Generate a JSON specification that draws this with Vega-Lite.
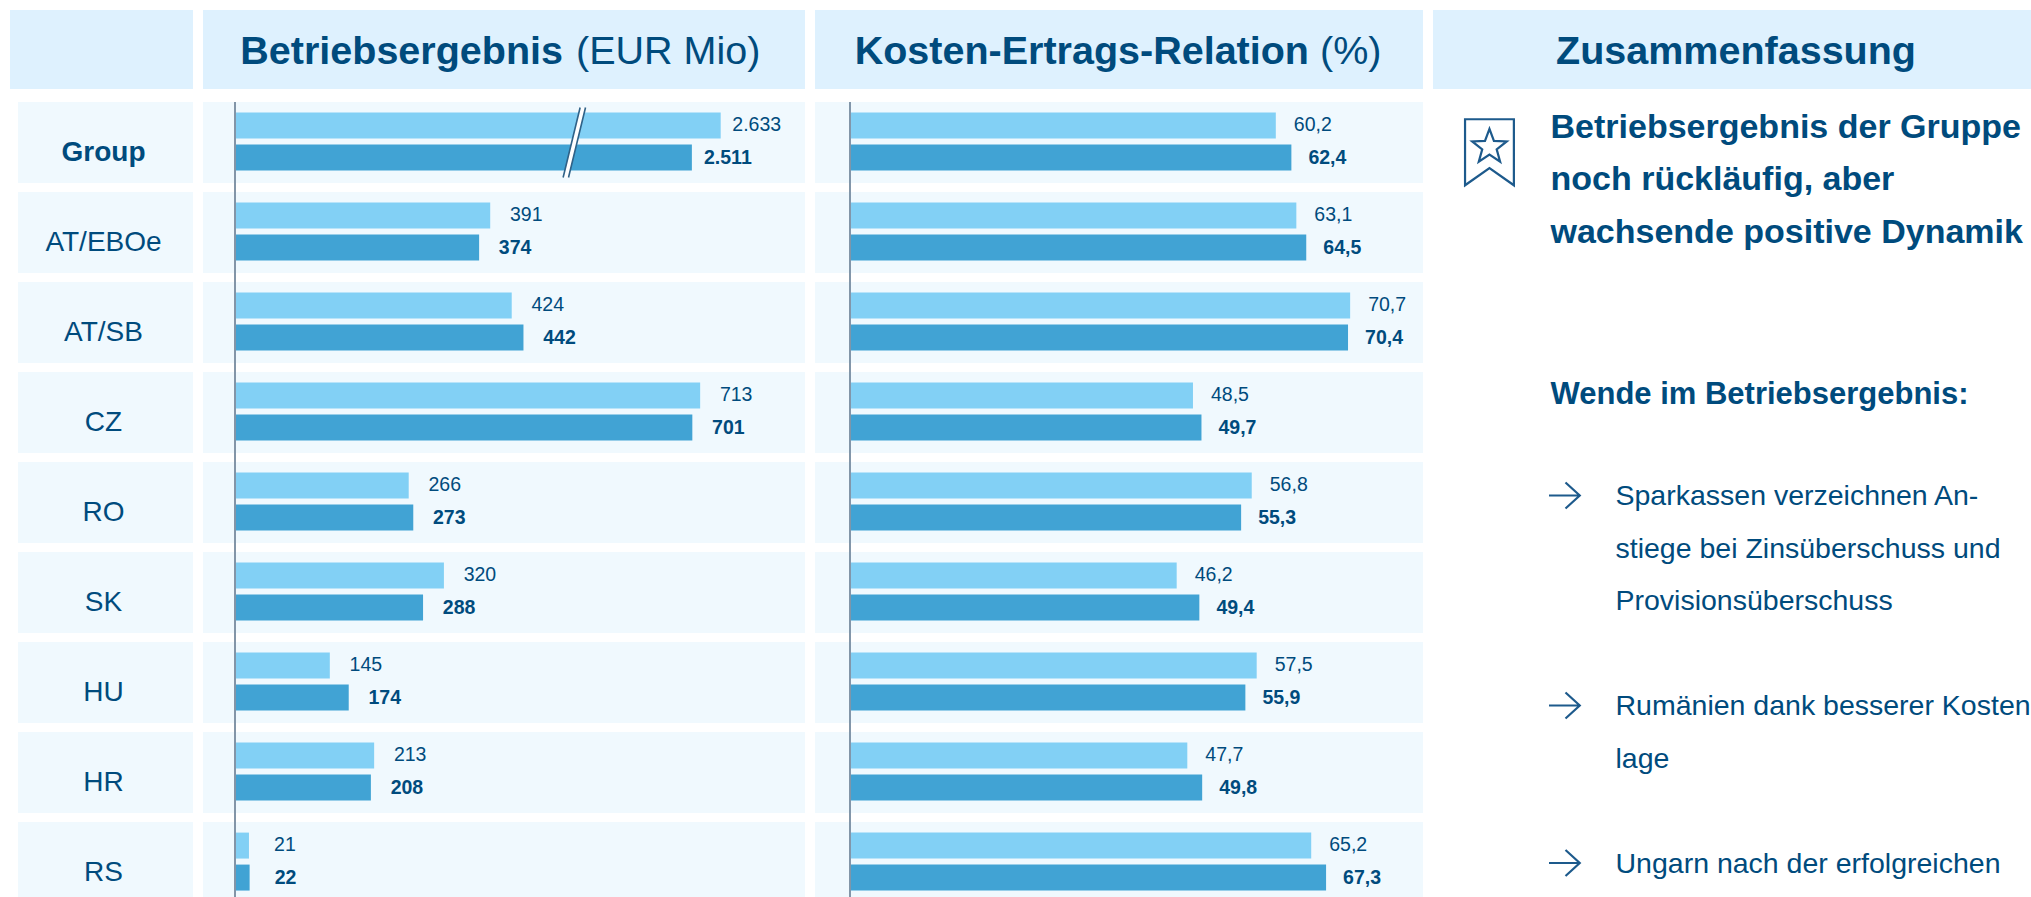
{
"$schema":"https://vega.github.io/schema/vega-lite/v6.json",
"background":"#ffffff",
"padding":{"left":10,"top":10,"right":0,"bottom":0},
"config":{"font":"Liberation Sans","view":{"stroke":null},"text":{"font":"Liberation Sans","color":"#004b7d","baseline":"middle"}},
"datasets":{
"werte":[
{"land":"Group","periode":"Vorjahr","be":2633,"balken":744.5,"be_text":"2.633","ker":60.2,"ker_text":"60,2"},
{"land":"Group","periode":"Berichtsjahr","be":2511,"balken":700.3,"be_text":"2.511","ker":62.4,"ker_text":"62,4"},
{"land":"AT/EBOe","periode":"Vorjahr","be":391,"balken":391,"be_text":"391","ker":63.1,"ker_text":"63,1"},
{"land":"AT/EBOe","periode":"Berichtsjahr","be":374,"balken":374,"be_text":"374","ker":64.5,"ker_text":"64,5"},
{"land":"AT/SB","periode":"Vorjahr","be":424,"balken":424,"be_text":"424","ker":70.7,"ker_text":"70,7"},
{"land":"AT/SB","periode":"Berichtsjahr","be":442,"balken":442,"be_text":"442","ker":70.4,"ker_text":"70,4"},
{"land":"CZ","periode":"Vorjahr","be":713,"balken":713,"be_text":"713","ker":48.5,"ker_text":"48,5"},
{"land":"CZ","periode":"Berichtsjahr","be":701,"balken":701,"be_text":"701","ker":49.7,"ker_text":"49,7"},
{"land":"RO","periode":"Vorjahr","be":266,"balken":266,"be_text":"266","ker":56.8,"ker_text":"56,8"},
{"land":"RO","periode":"Berichtsjahr","be":273,"balken":273,"be_text":"273","ker":55.3,"ker_text":"55,3"},
{"land":"SK","periode":"Vorjahr","be":320,"balken":320,"be_text":"320","ker":46.2,"ker_text":"46,2"},
{"land":"SK","periode":"Berichtsjahr","be":288,"balken":288,"be_text":"288","ker":49.4,"ker_text":"49,4"},
{"land":"HU","periode":"Vorjahr","be":145,"balken":145,"be_text":"145","ker":57.5,"ker_text":"57,5"},
{"land":"HU","periode":"Berichtsjahr","be":174,"balken":174,"be_text":"174","ker":55.9,"ker_text":"55,9"},
{"land":"HR","periode":"Vorjahr","be":213,"balken":213,"be_text":"213","ker":47.7,"ker_text":"47,7"},
{"land":"HR","periode":"Berichtsjahr","be":208,"balken":208,"be_text":"208","ker":49.8,"ker_text":"49,8"},
{"land":"RS","periode":"Vorjahr","be":21,"balken":21,"be_text":"21","ker":65.2,"ker_text":"65,2"},
{"land":"RS","periode":"Berichtsjahr","be":22,"balken":22,"be_text":"22","ker":67.3,"ker_text":"67,3"}
],
"laender":[{"land":"Group","spalte":"Land"},{"land":"AT/EBOe","spalte":"Land"},{"land":"AT/SB","spalte":"Land"},{"land":"CZ","spalte":"Land"},{"land":"RO","spalte":"Land"},{"land":"SK","spalte":"Land"},{"land":"HU","spalte":"Land"},{"land":"HR","spalte":"Land"},{"land":"RS","spalte":"Land"}],
"zusammenfassung":[
{"zeile":1,"ebene":1,"art":"kopf","text":"Betriebsergebnis der Gruppe"},
{"zeile":2,"ebene":1,"art":"kopf","text":"noch rückläufig, aber"},
{"zeile":3,"ebene":1,"art":"kopf","text":"wachsende positive Dynamik"},
{"zeile":6,"ebene":1,"art":"zwischen","text":"Wende im Betriebsergebnis:"},
{"zeile":8,"ebene":2,"art":"punkt","text":"Sparkassen verzeichnen An-"},
{"zeile":9,"ebene":2,"art":"punkt","text":"stiege bei Zinsüberschuss und"},
{"zeile":10,"ebene":2,"art":"punkt","text":"Provisionsüberschuss"},
{"zeile":12,"ebene":2,"art":"punkt","text":"Rumänien dank besserer Kosten-"},
{"zeile":13,"ebene":2,"art":"punkt","text":"lage"},
{"zeile":15,"ebene":2,"art":"punkt","text":"Ungarn nach der erfolgreichen"}
]
},
"vconcat":[
{"hconcat":[
 {"width":183,"height":79,"view":{"fill":"#def1fe"},"data":{"values":[{"titel":" "}]},"mark":{"type":"text"},"encoding":{"text":{"field":"titel"}}},
 {"width":602,"height":79,"view":{"fill":"#def1fe"},"data":{"values":[{"fett":"Betriebsergebnis","normal":"(EUR Mio)"}]},"layer":[
  {"mark":{"type":"text","fontSize":39.5,"fontWeight":"bold","align":"right","dx":59,"dy":2},"encoding":{"text":{"field":"fett"}}},
  {"mark":{"type":"text","fontSize":39.5,"align":"left","dx":72,"dy":2},"encoding":{"text":{"field":"normal"}}}
 ]},
 {"width":608,"height":79,"view":{"fill":"#def1fe"},"data":{"values":[{"fett":"Kosten-Ertrags-Relation","normal":"(%)"}]},"layer":[
  {"mark":{"type":"text","fontSize":39.5,"fontWeight":"bold","align":"right","dx":190,"dy":2},"encoding":{"text":{"field":"fett"}}},
  {"mark":{"type":"text","fontSize":39.5,"align":"left","dx":201,"dy":2},"encoding":{"text":{"field":"normal"}}}
 ]},
 {"width":598,"height":79,"view":{"fill":"#def1fe"},"data":{"values":[{"fett":"Zusammenfassung"}]},"mark":{"type":"text","fontSize":39.5,"fontWeight":"bold","dx":4,"dy":2},"encoding":{"text":{"field":"fett"}}}
],"spacing":10,"bounds":"flush"},
{"hconcat":[
 {"width":183,"height":800,"data":{"name":"laender"},
  "encoding":{
   "y":{"field":"land","type":"nominal","axis":null,"scale":{"domain":["Group","AT/EBOe","AT/SB","CZ","RO","SK","HU","HR","RS"],"range":[0,801],"paddingInner":0.1,"paddingOuter":0}},
   "x":{"field":"spalte","type":"nominal","axis":null,"scale":{"range":[8,183],"paddingInner":0,"paddingOuter":0}}
  },
  "layer":[
  {"mark":{"type":"rect","fill":"#f0f9fe","clip":true},"encoding":{}},
  {"transform":[{"filter":"datum.land === 'Group'"}],"mark":{"type":"text","fontSize":28,"fontWeight":"bold","dx":-2,"dy":10},"encoding":{"text":{"field":"land"}}},
  {"transform":[{"filter":"datum.land !== 'Group'"}],"mark":{"type":"text","fontSize":28,"dx":-2,"dy":10},"encoding":{"text":{"field":"land"}}}
 ]},
 {"width":602,"height":800,"data":{"name":"werte"},"layer":[
  {"data":{"name":"laender"},"mark":{"type":"rect","fill":"#f0f9fe","clip":true},"encoding":{"y":{"field":"land","type":"nominal","axis":null,"scale":{"domain":["Group","AT/EBOe","AT/SB","CZ","RO","SK","HU","HR","RS"],"range":[0,801],"paddingInner":0.1,"paddingOuter":0}}}},
  {"mark":{"type":"bar","clip":true},"encoding":{
   "y":{"field":"land","type":"nominal","axis":null,"scale":{"domain":["Group","AT/EBOe","AT/SB","CZ","RO","SK","HU","HR","RS"],"range":[0,801],"paddingInner":0.1,"paddingOuter":0}},
   "yOffset":{"field":"periode","type":"nominal","scale":{"domain":["Vorjahr","Berichtsjahr"],"paddingInner":0.1875,"paddingOuter":0.36,"align":0.46}},
   "x":{"field":"balken","type":"quantitative","axis":null,"stack":null,"scale":{"domain":[-49.5,873.8],"nice":false,"zero":false}},
   "color":{"field":"periode","type":"nominal","legend":null,"scale":{"domain":["Vorjahr","Berichtsjahr"],"range":["#82d0f5","#41a3d4"]}}
  }},
  {"transform":[{"filter":"datum.periode === 'Vorjahr'"}],"mark":{"type":"text","fontSize":19.5,"dx":36,"dy":-1},"encoding":{
   "y":{"field":"land","type":"nominal","axis":null,"scale":{"domain":["Group","AT/EBOe","AT/SB","CZ","RO","SK","HU","HR","RS"],"range":[0,801],"paddingInner":0.1,"paddingOuter":0}},
   "yOffset":{"field":"periode","type":"nominal","scale":{"domain":["Vorjahr","Berichtsjahr"],"paddingInner":0.1875,"paddingOuter":0.36,"align":0.46}},
   "x":{"field":"balken","type":"quantitative","axis":null,"scale":{"domain":[-49.5,873.8],"nice":false,"zero":false}},
   "text":{"field":"be_text"}
  }},
  {"transform":[{"filter":"datum.periode === 'Berichtsjahr'"}],"mark":{"type":"text","fontSize":19.5,"fontWeight":"bold","dx":36},"encoding":{
   "y":{"field":"land","type":"nominal","axis":null,"scale":{"domain":["Group","AT/EBOe","AT/SB","CZ","RO","SK","HU","HR","RS"],"range":[0,801],"paddingInner":0.1,"paddingOuter":0}},
   "yOffset":{"field":"periode","type":"nominal","scale":{"domain":["Vorjahr","Berichtsjahr"],"paddingInner":0.1875,"paddingOuter":0.36,"align":0.46}},
   "x":{"field":"balken","type":"quantitative","axis":null,"scale":{"domain":[-49.5,873.8],"nice":false,"zero":false}},
   "text":{"field":"be_text"}
  }},
  {"mark":{"type":"rule","stroke":"#8296a8","strokeWidth":1.2,"clip":true},"encoding":{"x":{"datum":0,"axis":null,"scale":{"domain":[-49.5,873.8],"nice":false,"zero":false}}}},
  {"data":{"values":[{"land":"Group","bruch":520}]},"mark":{"type":"point","filled":false,"shape":"M0.243 -1 L-0.243 1","size":4900,"stroke":"#ffffff","strokeWidth":5,"opacity":1},"encoding":{"x":{"field":"bruch","type":"quantitative","axis":null,"scale":{"domain":[-49.5,873.8],"nice":false,"zero":false}},"y":{"field":"land","type":"nominal","axis":null,"scale":{"domain":["Group","AT/EBOe","AT/SB","CZ","RO","SK","HU","HR","RS"],"range":[0,801],"paddingInner":0.1,"paddingOuter":0}}}},
  {"data":{"values":[{"land":"Group","bruch":520}]},"mark":{"type":"point","filled":false,"shape":"M0.32 -1 L-0.166 1 M0.166 -1 L-0.32 1","size":4900,"stroke":"#2f6288","strokeWidth":1.6,"opacity":1},"encoding":{"x":{"field":"bruch","type":"quantitative","axis":null,"scale":{"domain":[-49.5,873.8],"nice":false,"zero":false}},"y":{"field":"land","type":"nominal","axis":null,"scale":{"domain":["Group","AT/EBOe","AT/SB","CZ","RO","SK","HU","HR","RS"],"range":[0,801],"paddingInner":0.1,"paddingOuter":0}}}}
 ]},
 {"width":608,"height":800,"data":{"name":"werte"},"layer":[
  {"data":{"name":"laender"},"mark":{"type":"rect","fill":"#f0f9fe","clip":true},"encoding":{"y":{"field":"land","type":"nominal","axis":null,"scale":{"domain":["Group","AT/EBOe","AT/SB","CZ","RO","SK","HU","HR","RS"],"range":[0,801],"paddingInner":0.1,"paddingOuter":0}}}},
  {"mark":{"type":"bar","clip":true},"encoding":{
   "y":{"field":"land","type":"nominal","axis":null,"scale":{"domain":["Group","AT/EBOe","AT/SB","CZ","RO","SK","HU","HR","RS"],"range":[0,801],"paddingInner":0.1,"paddingOuter":0}},
   "yOffset":{"field":"periode","type":"nominal","scale":{"domain":["Vorjahr","Berichtsjahr"],"paddingInner":0.1875,"paddingOuter":0.36,"align":0.46}},
   "x":{"field":"ker","type":"quantitative","axis":null,"stack":null,"scale":{"domain":[-4.887,80.99],"nice":false,"zero":false}},
   "color":{"field":"periode","type":"nominal","legend":null,"scale":{"domain":["Vorjahr","Berichtsjahr"],"range":["#82d0f5","#41a3d4"]}}
  }},
  {"transform":[{"filter":"datum.periode === 'Vorjahr'"}],"mark":{"type":"text","fontSize":19.5,"dx":37,"dy":-1},"encoding":{
   "y":{"field":"land","type":"nominal","axis":null,"scale":{"domain":["Group","AT/EBOe","AT/SB","CZ","RO","SK","HU","HR","RS"],"range":[0,801],"paddingInner":0.1,"paddingOuter":0}},
   "yOffset":{"field":"periode","type":"nominal","scale":{"domain":["Vorjahr","Berichtsjahr"],"paddingInner":0.1875,"paddingOuter":0.36,"align":0.46}},
   "x":{"field":"ker","type":"quantitative","axis":null,"scale":{"domain":[-4.887,80.99],"nice":false,"zero":false}},
   "text":{"field":"ker_text"}
  }},
  {"transform":[{"filter":"datum.periode === 'Berichtsjahr'"}],"mark":{"type":"text","fontSize":19.5,"fontWeight":"bold","dx":36},"encoding":{
   "y":{"field":"land","type":"nominal","axis":null,"scale":{"domain":["Group","AT/EBOe","AT/SB","CZ","RO","SK","HU","HR","RS"],"range":[0,801],"paddingInner":0.1,"paddingOuter":0}},
   "yOffset":{"field":"periode","type":"nominal","scale":{"domain":["Vorjahr","Berichtsjahr"],"paddingInner":0.1875,"paddingOuter":0.36,"align":0.46}},
   "x":{"field":"ker","type":"quantitative","axis":null,"scale":{"domain":[-4.887,80.99],"nice":false,"zero":false}},
   "text":{"field":"ker_text"}
  }},
  {"mark":{"type":"rule","stroke":"#8296a8","strokeWidth":1.2,"clip":true},"encoding":{"x":{"datum":0,"axis":null,"scale":{"domain":[-4.887,80.99],"nice":false,"zero":false}}}}
 ]},
 {"width":598,"height":800,"data":{"name":"zusammenfassung"},
  "encoding":{
   "x":{"field":"ebene","type":"quantitative","axis":null,"scale":{"domain":[-0.8077,8.392],"nice":false,"zero":false}},
   "y":{"field":"zeile","type":"quantitative","axis":null,"scale":{"domain":[0.505,15.743],"nice":false,"zero":false,"reverse":true}}
  },
  "layer":[
  {"transform":[{"filter":"datum.art === 'kopf'"}],"mark":{"type":"text","fontSize":34,"fontWeight":"bold","align":"left","clip":true},"encoding":{"text":{"field":"text"}}},
  {"transform":[{"filter":"datum.art === 'zwischen'"}],"mark":{"type":"text","fontSize":31,"fontWeight":"bold","align":"left","dy":5,"clip":true},"encoding":{"text":{"field":"text"}}},
  {"transform":[{"filter":"datum.art === 'punkt'"}],"mark":{"type":"text","fontSize":28.5,"align":"left","dy":1,"clip":true},"encoding":{"text":{"field":"text"}}},
  {"data":{"values":[{"ebene":1,"zeile":8},{"ebene":1,"zeile":12},{"ebene":1,"zeile":15}]},"mark":{"type":"point","filled":false,"shape":"M-0.1 0 L1.95 0 M1 -0.87 L1.95 0 L1 0.87","size":900,"stroke":"#1d5a8c","strokeWidth":2.2,"opacity":1},"encoding":{}},
  {"data":{"values":[{"ebene":0,"zeile":1.5}]},"mark":{"type":"point","filled":false,"shape":"M-0.62 -1.06 L0.86 -1.06 L0.86 0.94 L0.12 0.42 L-0.62 0.94 Z M0.12 -0.77 L0.255 -0.406 L0.643 -0.39 L0.339 -0.149 L0.443 0.225 L0.12 0.01 L-0.203 0.225 L-0.099 -0.149 L-0.403 -0.39 L-0.015 -0.406 Z","size":4356,"stroke":"#1d5a8c","strokeWidth":2.2,"opacity":1},"encoding":{}}
 ]}
],"spacing":10,"bounds":"flush"}
],"spacing":8,"bounds":"full"
}
